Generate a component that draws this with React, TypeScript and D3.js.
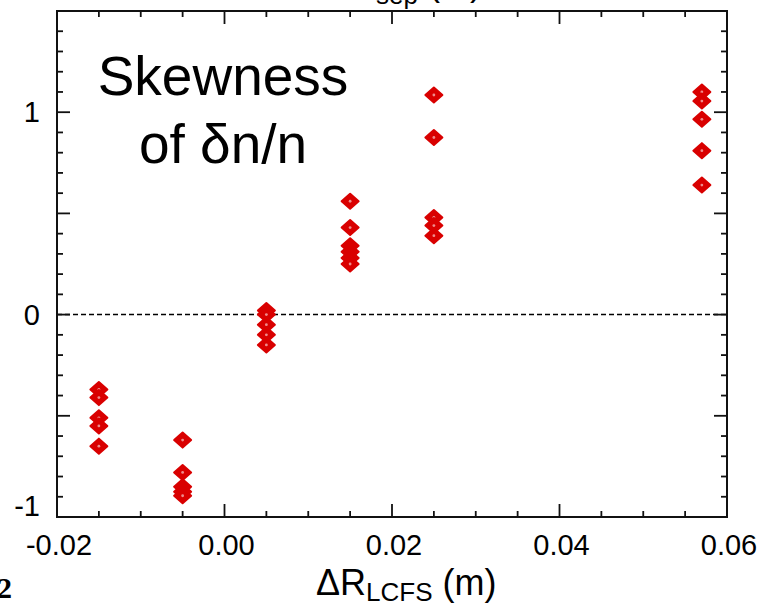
import React from "react";
import * as d3 from "d3";

// ---- data ----
const groupX: number[] = [-0.015, -0.005, 0.005, 0.015, 0.025, 0.057];
const skewG1: number[] = [-0.37, -0.41, -0.51, -0.55, -0.65];
const skewG2: number[] = [-0.62, -0.78, -0.85, -0.875, -0.895];
const skewG3: number[] = [0.02, 0.0, -0.05, -0.1, -0.15];
const skewG4: number[] = [0.56, 0.43, 0.34, 0.31, 0.28, 0.25];
const skewG5: number[] = [1.085, 0.875, 0.48, 0.44, 0.39];
const skewG6: number[] = [1.1, 1.055, 0.965, 0.81, 0.64];
const skewGroups: number[][] = [skewG1, skewG2, skewG3, skewG4, skewG5, skewG6];

const xTickLabels: string[] = ["-0.02", "0.00", "0.02", "0.04", "0.06"];
const xTickValues: number[] = [-0.02, 0, 0.02, 0.04, 0.06];
const yTickLabels: string[] = ["1", "0", "-1"];
const yTickValues: number[] = [1, 0, -1];

const W = 758;
const H = 606;
const L = 57;
const R = 727;
const T = 11;
const B = 517;

const FONT = "'Liberation Sans', Arial, Helvetica, sans-serif";
const RED = "#d90000";

export default function App() {
  const x = d3.scaleLinear().domain([-0.02, 0.06]).range([L, R]);
  const y = d3.scaleLinear().domain([-1, 1.5]).range([B, T]);

  const xMajor = d3.range(-0.02, 0.0601, 0.02);
  const xMinor = d3.range(-0.02, 0.0601, 0.005);
  const yMajor = d3.range(-1, 1.501, 0.5);
  const yMinor = d3.range(-1, 1.501, 0.1);

  const points = groupX.flatMap((gx, i) => skewGroups[i].map((v) => ({ x: gx, y: v })));

  const majorLen = 13;
  const minorLen = 6;
  const dw = 8.5;
  const dh = 7.5;
  const diamond = `M0,${-dh}L${dw},0L0,${dh}L${-dw},0Z`;

  return (
    <svg width={W} height={H} style={{ position: "absolute", left: 0, top: 0, background: "#fff" }}>
      <rect x={0} y={0} width={W} height={H} fill="#fff" />
      {/* zero line */}
      <line x1={L} x2={R} y1={y(0)} y2={y(0)} stroke="#000" strokeWidth={1.5} strokeDasharray="5,3" />
      {/* ticks */}
      <g stroke="#111" strokeWidth={1.8}>
        {xMinor.map((v, i) => {
          const len = xMajor.some((m) => Math.abs(m - v) < 1e-9) ? majorLen : minorLen;
          return (
            <g key={"xt" + i}>
              <line x1={x(v)} x2={x(v)} y1={B} y2={B - len} />
              <line x1={x(v)} x2={x(v)} y1={T} y2={T + len} />
            </g>
          );
        })}
        {yMinor.map((v, i) => {
          const len = yMajor.some((m) => Math.abs(m - v) < 1e-9) ? majorLen : minorLen;
          return (
            <g key={"yt" + i}>
              <line x1={L} x2={L + len} y1={y(v)} y2={y(v)} />
              <line x1={R} x2={R - len} y1={y(v)} y2={y(v)} />
            </g>
          );
        })}
      </g>
      {/* frame */}
      <rect x={L} y={T} width={R - L} height={B - T} fill="none" stroke="#111" strokeWidth={2} />
      {/* points */}
      <g>
        {points.map((p, i) => (
          <g key={"p" + i} transform={`translate(${x(p.x)},${y(p.y)})`}>
            <path d={diamond} fill={RED} stroke={RED} strokeWidth={2} strokeLinejoin="round" />
            <circle r={1.4} fill="#fff" opacity={0.55} />
          </g>
        ))}
      </g>
      {/* tick labels */}
      <g fontFamily={FONT} fontSize={29} fill="#000">
        {xTickValues.map((v, i) => (
          <text key={"xl" + i} x={x(v) + 2} y={555} textAnchor="middle">
            {xTickLabels[i]}
          </text>
        ))}
        {yTickValues.map((v, i) => (
          <text key={"yl" + i} x={40} y={y(v) + (v === -1 ? -1 : 10)} textAnchor="end">
            {yTickLabels[i]}
          </text>
        ))}
      </g>
      {/* in-plot annotation */}
      <g fontFamily={FONT} fontSize={55} fill="#000" textAnchor="middle">
        <text x={223} y={95}>Skewness</text>
        <text x={223} y={163}>of δn/n</text>
      </g>
      {/* x-axis title */}
      <text x={316} y={595} fontFamily={FONT} fontSize={36} fill="#000">
        ΔR<tspan fontSize={26} dy={6}>LCFS</tspan>
        <tspan dy={-6}> (m)</tspan>
      </text>
      {/* cut-off top title */}
      <text x={326} y={-5} fontFamily={FONT} fontSize={36} fill="#000">
        ΔR<tspan fontSize={26} dy={9}>sep</tspan>
        <tspan dy={-9}> (m)</tspan>
      </text>
      {/* cut-off panel number */}
      <text x={-3} y={598} fontFamily="'Liberation Serif', 'Times New Roman', serif" fontWeight="bold" fontSize={30} fill="#000">
        2
      </text>
    </svg>
  );
}
